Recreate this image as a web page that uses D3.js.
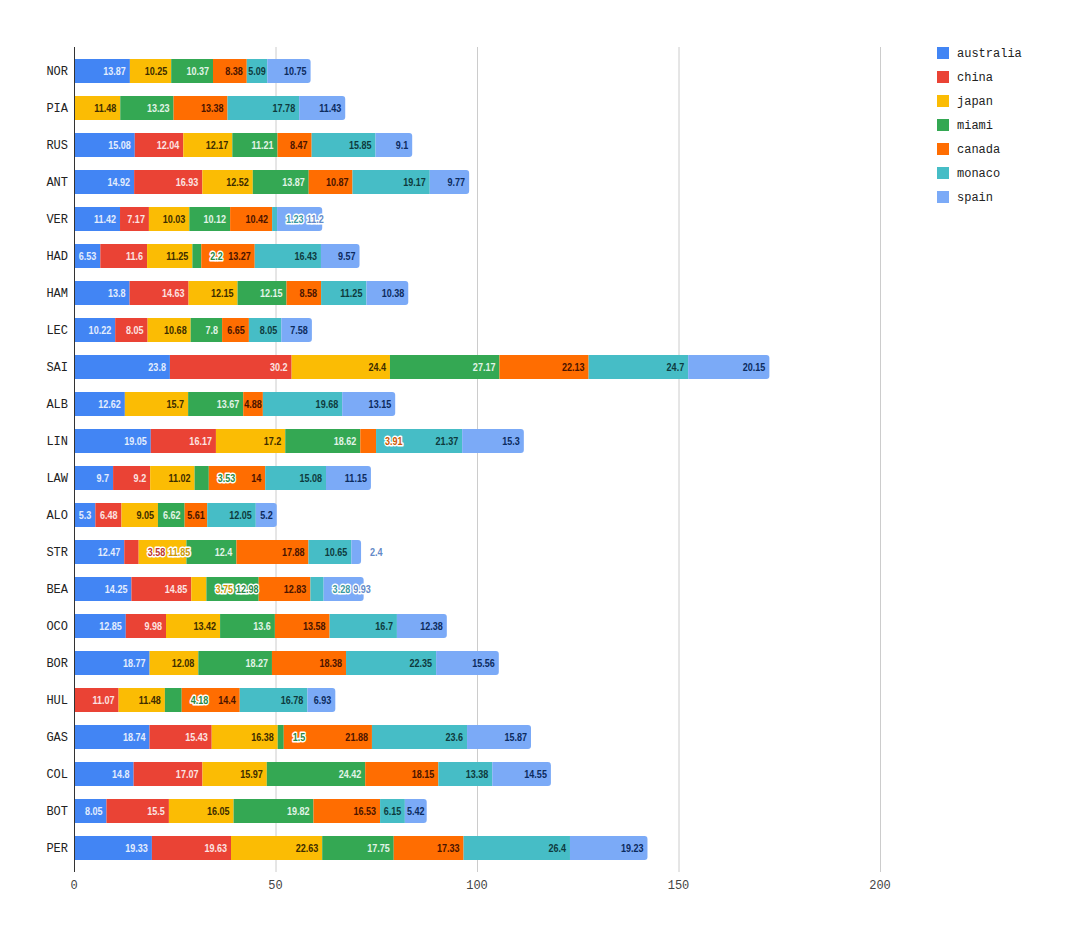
<!DOCTYPE html>
<html>
  <head>
    <meta http-equiv="Content-Type" content="text/html;charset=utf-8">
    <script src="https://d3js.org/d3.v7.min.js"></script>
    <style>
      body { margin: 0; background: #fff; }
    </style>
  </head>
  <body>
    <svg id="chart" width="1067" height="940"></svg>
    <script type="text/javascript">

// drivers, top to bottom
var drivers = ["NOR", "PIA", "RUS", "ANT", "VER", "HAD", "HAM", "LEC", "SAI", "ALB", "LIN",
               "LAW", "ALO", "STR", "BEA", "OCO", "BOR", "HUL", "GAS", "COL", "BOT", "PER"];

var seriesNames = ["australia", "china", "japan", "miami", "canada", "monaco", "spain"];

var australia = [13.87, 0, 15.08, 14.92, 11.42, 6.53, 13.8, 10.22, 23.8, 12.62, 19.05,
                 9.7, 5.3, 12.47, 14.25, 12.85, 18.77, 0, 18.74, 14.8, 8.05, 19.33];
var china     = [0, 0, 12.04, 16.93, 7.17, 11.6, 14.63, 8.05, 30.2, 0, 16.17,
                 9.2, 6.48, 3.58, 14.85, 9.98, 0, 11.07, 15.43, 17.07, 15.5, 19.63];
var japan     = [10.25, 11.48, 12.17, 12.52, 10.03, 11.25, 12.15, 10.68, 24.4, 15.7, 17.2,
                 11.02, 9.05, 11.85, 3.75, 13.42, 12.08, 11.48, 16.38, 15.97, 16.05, 22.63];
var miami     = [10.37, 13.23, 11.21, 13.87, 10.12, 2.2, 12.15, 7.8, 27.17, 13.67, 18.62,
                 3.53, 6.62, 12.4, 12.98, 13.6, 18.27, 4.18, 1.5, 24.42, 19.82, 17.75];
var canada    = [8.38, 13.38, 8.47, 10.87, 10.42, 13.27, 8.58, 6.65, 22.13, 4.88, 3.91,
                 14, 5.61, 17.88, 12.83, 13.58, 18.38, 14.4, 21.88, 18.15, 16.53, 17.33];
var monaco    = [5.09, 17.78, 15.85, 19.17, 1.23, 16.43, 11.25, 8.05, 24.7, 19.68, 21.37,
                 15.08, 12.05, 10.65, 3.28, 16.7, 22.35, 16.78, 23.6, 13.38, 6.15, 26.4];
var spain     = [10.75, 11.43, 9.1, 9.77, 11.2, 9.57, 10.38, 7.58, 20.15, 13.15, 15.3,
                 11.15, 5.2, 2.4, 9.93, 12.38, 15.56, 6.93, 15.87, 14.55, 5.42, 19.23];

var xTicks = [0, 50, 100, 150, 200];

var colors      = ["#4285f4", "#ea4335", "#fbbc04", "#34a853", "#ff6d01", "#46bdc6", "#7baaf7"];
var labelColors = ["#e4edfd", "#fce4e2", "#3d2c00", "#e2f4e7", "#4a1400", "#0e3a3d", "#0c2b5e"];

var seriesValues = [australia, china, japan, miami, canada, monaco, spain];

// table for d3.stack
var rows = drivers.map(function (d, i) {
  var r = { driver: d };
  seriesNames.forEach(function (s, j) { r[s] = seriesValues[j][i]; });
  return r;
});

var stacked = d3.stack().keys(seriesNames)(rows);

var svg = d3.select("#chart");
var monoFont = "'Liberation Mono', 'DejaVu Sans Mono', monospace";
var labelFont = "'Liberation Sans', Arial, sans-serif";

var x = d3.scaleLinear().domain([0, 200]).range([74, 880]);
var y = d3.scaleBand().domain(drivers).range([52.5, 866.5])
  .paddingInner(0.35).paddingOuter(0.175);

var plotTop = 47, plotBottom = 872;

// gridlines
svg.append("g").selectAll("line")
  .data(xTicks.filter(function (t) { return t > 0; }))
  .join("line")
  .attr("x1", function (d) { return x(d) + 0.5; })
  .attr("x2", function (d) { return x(d) + 0.5; })
  .attr("y1", plotTop).attr("y2", plotBottom)
  .attr("stroke", "#cccccc").attr("stroke-width", 1);

// x tick labels
svg.append("g").selectAll("text")
  .data(xTicks)
  .join("text")
  .attr("x", function (d) { return x(d); })
  .attr("y", 889)
  .attr("text-anchor", "middle")
  .style("font-family", monoFont).style("font-size", "12px")
  .attr("fill", "#444")
  .text(function (d) { return d; });

// bars
function roundedRight(x0, y0, w, h, r) {
  var p = d3.path();
  r = Math.min(r, w);
  p.moveTo(x0, y0);
  p.lineTo(x0 + w - r, y0);
  p.quadraticCurveTo(x0 + w, y0, x0 + w, y0 + r);
  p.lineTo(x0 + w, y0 + h - r);
  p.quadraticCurveTo(x0 + w, y0 + h, x0 + w - r, y0 + h);
  p.lineTo(x0, y0 + h);
  p.closePath();
  return p.toString();
}

var lastIdx = drivers.map(function (d, i) {
  var k = -1;
  seriesValues.forEach(function (v, j) { if (v[i] > 0) k = j; });
  return k;
});

var barG = svg.append("g");
stacked.forEach(function (layer, j) {
  layer.forEach(function (seg, i) {
    var w = x(seg[1]) - x(seg[0]);
    if (w <= 0) return;
    barG.append("path")
      .attr("d", roundedRight(x(seg[0]), y(drivers[i]), w, y.bandwidth(), lastIdx[i] === j ? 3 : 0))
      .attr("fill", colors[j]);
  });
});

// zero baseline
svg.append("line")
  .attr("x1", x(0) + 0.5).attr("x2", x(0) + 0.5)
  .attr("y1", plotTop).attr("y2", plotBottom)
  .attr("stroke", "#333").attr("stroke-width", 1);

// data labels (narrowed to look like the condensed chart font)
var squeeze = 0.82;
var labelG = svg.append("g");
drivers.forEach(function (d, i) {
  var lastRight = -Infinity;
  var cy = y(d) + y.bandwidth() / 2;
  seriesNames.forEach(function (s, j) {
    var seg = stacked[j][i];
    var v = seriesValues[j][i];
    if (!(v > 0)) return;
    var x0 = x(seg[0]), x1 = x(seg[1]), w = x1 - x0;
    var t = labelG.append("text")
      .attr("y", cy)
      .attr("dy", "0.36em")
      .style("font-family", labelFont)
      .style("font-size", "11px")
      .style("font-weight", "bold")
      .text(v);
    var tw = t.node().getComputedTextLength() * squeeze;
    t.attr("textLength", tw).attr("lengthAdjust", "spacingAndGlyphs");
    var left, halo = false;
    if (tw + 1 <= w) {
      left = x1 - Math.min(4, (w - tw) / 2) - tw;
    } else {
      left = x1 + 9;
      halo = true;
    }
    if (left < lastRight + 3) {
      left = lastRight + 3;
      halo = true;
    }
    t.attr("x", left);
    if (halo) {
      t.attr("fill", d3.color(colors[j]).darker(0.6))
        .attr("stroke", "#fff").attr("stroke-width", 3)
        .attr("stroke-linejoin", "round")
        .style("paint-order", "stroke");
    } else {
      t.attr("fill", labelColors[j]);
    }
    lastRight = left + tw;
  });
});

// y labels
svg.append("g").selectAll("text")
  .data(drivers)
  .join("text")
  .attr("x", 68)
  .attr("y", function (d) { return y(d) + y.bandwidth() / 2; })
  .attr("dy", "0.35em")
  .attr("text-anchor", "end")
  .style("font-family", monoFont).style("font-size", "12px")
  .attr("fill", "#222")
  .text(function (d) { return d; });

// legend
var legend = svg.append("g").attr("transform", "translate(937,47)");
var li = legend.selectAll("g")
  .data(seriesNames)
  .join("g")
  .attr("transform", function (d, i) { return "translate(0," + (i * 24) + ")"; });
li.append("rect")
  .attr("width", 12).attr("height", 12)
  .attr("fill", function (d, i) { return colors[i]; });
li.append("text")
  .attr("x", 20).attr("y", 6).attr("dy", "0.35em")
  .style("font-family", monoFont).style("font-size", "12px")
  .attr("fill", "#222")
  .text(function (d) { return d; });

    </script>
  </body>
</html>
